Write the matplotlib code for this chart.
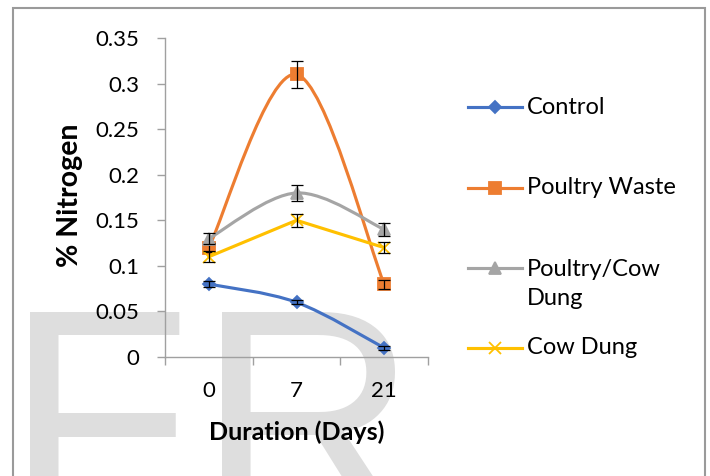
import numpy as np
import matplotlib.pyplot as plt
from matplotlib.path import Path
from matplotlib.patches import PathPatch, Rectangle
from matplotlib.lines import Line2D

plt.rcParams['font.family'] = ['Lato', 'DejaVu Sans']

# nitrogen content per treatment over the composting period
days = ['0', '7', '21']
control = [0.08, 0.06, 0.01]
poultry_waste = [0.12, 0.31, 0.08]
poultry_cow = [0.13, 0.18, 0.14]
cow_dung = [0.11, 0.15, 0.12]

control_err = [0.003, 0.002, 0.002]
poultry_waste_err = [0.005, 0.015, 0.005]
poultry_cow_err = [0.006, 0.009, 0.007]
cow_dung_err = [0.006, 0.007, 0.006]

yticks = [0, 0.05, 0.1, 0.15, 0.2, 0.25, 0.3, 0.35]
ytick_labels = ['0', '0.05', '0.1', '0.15', '0.2', '0.25', '0.3', '0.35']

W, H = 710, 476


def fx(x):
    return x / W


def fy(y):
    return 1 - y / H


def smooth_path(x, y):
    # excel style smoothed line: cubic bezier segments through every point
    pts = np.column_stack([x, y]).astype(float)
    n = len(pts)
    verts = [pts[0]]
    codes = [Path.MOVETO]
    for i in range(n - 1):
        p0 = pts[max(i - 1, 0)]
        p1 = pts[i]
        p2 = pts[i + 1]
        p3 = pts[min(i + 2, n - 1)]
        verts += [p1 + (p2 - p0) / 6, p2 - (p3 - p1) / 6, p2]
        codes += [Path.CURVE4] * 3
    return Path(verts, codes)


fig = plt.figure(figsize=(W / 100, H / 100), dpi=100)

# big watermark letters behind the chart
fig.text(fx(5), fy(523), 'F', fontsize=220, family='Liberation Sans',
         color='#dedede', ha='left', va='baseline', zorder=-5)
fig.text(fx(197), fy(523), 'R', fontsize=220, family='Liberation Sans',
         color='#dedede', ha='left', va='baseline', zorder=-5)

# frame round the chart area
fig.add_artist(Rectangle((fx(13), fy(490)), fx(705) - fx(13), fy(8) - fy(490),
                         transform=fig.transFigure, fill=False,
                         edgecolor='#9a9a9a', lw=1.5, zorder=-4))

ax = fig.add_axes([fx(165), fy(357), fx(428) - fx(165), fy(38) - fy(357)])
ax.patch.set_visible(False)

x = np.arange(len(days))
series = [
    ('Control', control, control_err, '#4472C4', 'D', 6.0, True),
    ('Poultry Waste', poultry_waste, poultry_waste_err, '#ED7D31', 's', 8.5, True),
    ('Poultry/Cow\nDung', poultry_cow, poultry_cow_err, '#A5A5A5', '^', 9.0, True),
    ('Cow Dung', cow_dung, cow_dung_err, '#FFC000', 'x', 8.0, False),
]

for i, (name, vals, err, color, marker, ms, smooth) in enumerate(series):
    z = 2 + i
    if smooth:
        ax.add_patch(PathPatch(smooth_path(x, vals), fill=False, edgecolor=color,
                               lw=2.25, capstyle='round', zorder=z))
    else:
        ax.plot(x, vals, color=color, lw=2.25, solid_capstyle='round', zorder=z)
    ax.plot(x, vals, linestyle='none', marker=marker, ms=ms, color=color,
            mec=color, mew=1.3, zorder=z + 0.3)
    ax.errorbar(x, vals, yerr=err, fmt='none', ecolor='black', elinewidth=0.9,
                capsize=4, capthick=0.9, zorder=z + 0.5)

ax.set_xlim(-0.5, 2.5)
ax.set_ylim(0, 0.35)
ax.set_yticks(yticks)
ax.set_yticklabels(ytick_labels)
ax.set_xticks([-0.5, 0.5, 1.5, 2.5])
ax.set_xticklabels([])
ax.set_xticks(x, minor=True)
ax.set_xticklabels(days, minor=True)

axis_color = '#a0a0a0'
for side in ['top', 'right']:
    ax.spines[side].set_visible(False)
for side in ['left', 'bottom']:
    ax.spines[side].set_color(axis_color)
    ax.spines[side].set_linewidth(1)
ax.tick_params(axis='both', which='major', length=5.8, width=1, color=axis_color,
               labelsize=16, labelcolor='black')
ax.tick_params(axis='y', which='major', pad=13)
ax.tick_params(axis='x', which='minor', length=0, labelsize=16, pad=17)

ax.set_ylabel('% Nitrogen', fontsize=20.5, fontweight='bold', va='center', ha='center')
ax.yaxis.set_label_coords(-0.362, 0.508)
ax.set_xlabel('Duration (Days)', fontsize=18, fontweight='bold', va='center', ha='center')
ax.xaxis.set_label_coords(0.502, -0.235)

# legend on the right: handle row and label centre for each entry
legend_rows = [(107, 107, 0), (188, 188, 1), (268, 284, 2), (348, 348, 3)]
for yhandle, ytext, idx in legend_rows:
    name, vals, err, color, marker, ms, smooth = series[idx]
    fig.add_artist(Line2D([fx(468), fx(522)], [fy(yhandle), fy(yhandle)],
                          transform=fig.transFigure, color=color, lw=2.25))
    fig.add_artist(Line2D([fx(495)], [fy(yhandle)], transform=fig.transFigure,
                          linestyle='none', marker=marker, ms=ms, color=color,
                          mec=color, mew=1.3))
    fig.text(fx(527), fy(ytext), name, fontsize=17, va='center', ha='left',
             linespacing=1.45)

fig.savefig('out.png', dpi=100)
